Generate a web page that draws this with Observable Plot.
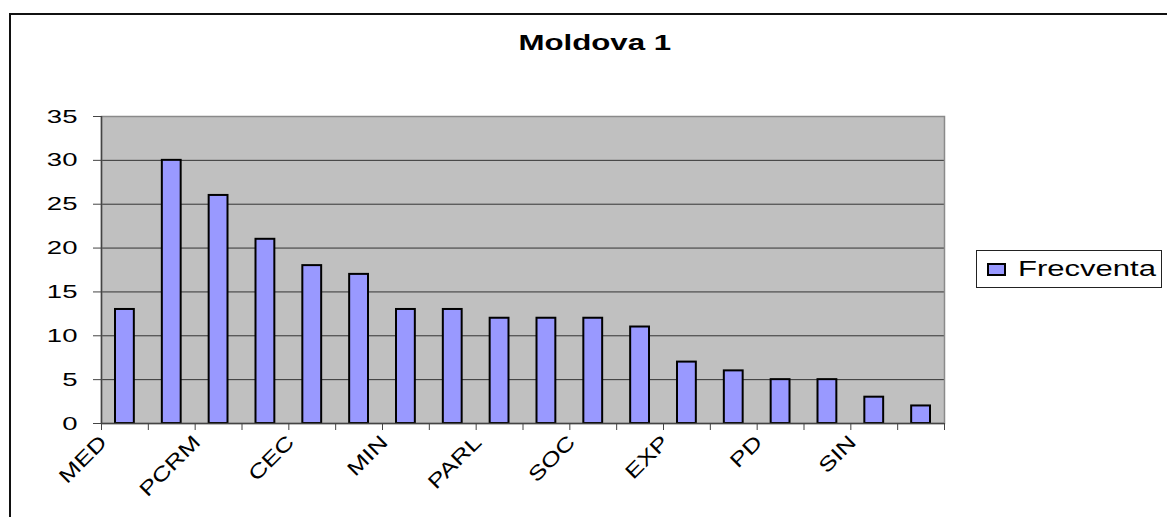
<!DOCTYPE html>
<html>
<head>
<meta charset="utf-8">
<script src="https://cdn.jsdelivr.net/npm/d3@7"></script>
<script src="https://cdn.jsdelivr.net/npm/@observablehq/plot@0.6"></script>
<style>
  html, body { margin: 0; padding: 0; background: #fff; }
  #wrap { position: relative; width: 1167px; height: 517px; overflow: hidden; font-family: "Liberation Sans", Arial, sans-serif; }
  #frame { position: absolute; left: 9px; top: 13px; width: 1170px; height: 520px; border-left: 2px solid #111; border-top: 2px solid #111; box-sizing: border-box; }
  #title { position: absolute; left: 0; width: 1190px; top: 30px; text-align: center; font-weight: bold; font-size: 22px; line-height: 26px; }
  #title span { display: inline-block; transform: scaleX(1.42); }
  #legend { position: absolute; left: 976px; top: 250px; width: 186px; height: 38px; border: 1px solid #222; box-sizing: border-box; background: #fff; }
  #legend .sw { position: absolute; left: 10px; top: 12px; width: 19px; height: 13px; background: #9999FF; border: 2px solid #000; box-sizing: border-box; }
  #legend .lab { position: absolute; left: 41px; top: 5px; font-size: 22px; line-height: 26px; transform: scaleX(1.41); transform-origin: 0 0; white-space: nowrap; }
</style>
</head>
<body>
<div id="wrap">
  <div id="chart"></div>
  <div id="frame"></div>
  <div id="title"><span>Moldova 1</span></div>
  <div id="legend"><div class="sw"></div><div class="lab">Frecventa</div></div>
</div>
<script>
// ---- data ----
const values = [13, 30, 26, 21, 18, 17, 13, 13, 12, 12, 12, 11, 7, 6, 5, 5, 3, 2];
const tickLabels = ["MED", "PCRM", "CEC", "MIN", "PARL", "SOC", "EXP", "PD", "SIN"];
const labelEvery = 2;
const yTicks = [0, 5, 10, 15, 20, 25, 30, 35];
const seriesName = "Frecventa";

const bars = values.map((v, i) => ({pos: i + 1, value: v}));
const labels = tickLabels.map((t, k) => ({pos: k * labelEvery + 1, text: t}));
const boundaries = d3.range(0.5, values.length + 1, 1);

const chart = Plot.plot({
  width: 1167,
  height: 517,
  marginLeft: 101,
  marginRight: 223,
  marginTop: 116,
  marginBottom: 94,
  style: {fontFamily: "'Liberation Sans', Arial, sans-serif", color: "#000", background: "transparent", overflow: "visible"},
  x: {type: "linear", domain: [0.5, values.length + 0.5], axis: null},
  y: {domain: [0, 35], axis: null},
  marks: [
    Plot.frame({fill: "#C0C0C0"}),
    Plot.ruleY(yTicks, {stroke: "#333", strokeWidth: 1}),
    Plot.frame({stroke: "#8a8a8a", strokeWidth: 1.5, fill: "none"}),
    Plot.rectY(bars, {
      x1: d => d.pos - 0.5, x2: d => d.pos + 0.5, y: "value",
      insetLeft: 14, insetRight: 14,
      fill: "#9999FF", stroke: "#000", strokeWidth: 2
    }),
    Plot.ruleX([0.5], {stroke: "#444", strokeWidth: 1.5}),
    Plot.ruleY([0], {stroke: "#444", strokeWidth: 1.5}),
    Plot.axisY({ticks: yTicks, tickSize: 8, tickPadding: 16, fontSize: 19, stroke: "#444", label: null}),
    Plot.axisX({ticks: boundaries, tickSize: 7, tickFormat: () => "", stroke: "#444", label: null}),
    Plot.text(labels, {
      x: "pos", y: () => 0, text: "text",
      rotate: -45, textAnchor: "end", lineAnchor: "top",
      dx: -27, dy: 10, fontSize: 20, fill: "#000", className: "xlab"
    })
  ]
});

// stretch glyphs along the text direction, as in the reference rendering
chart.querySelectorAll("text").forEach(t => {
  if (!t.textContent) return;
  const tr = t.getAttribute("transform");
  const s = t.closest(".xlab") ? 1.3 : 1.45;
  if (tr) t.setAttribute("transform", tr + ` scale(${s},1)`);
});

document.getElementById("chart").appendChild(chart);
document.querySelector("#legend .lab").textContent = seriesName;
</script>
</body>
</html>
